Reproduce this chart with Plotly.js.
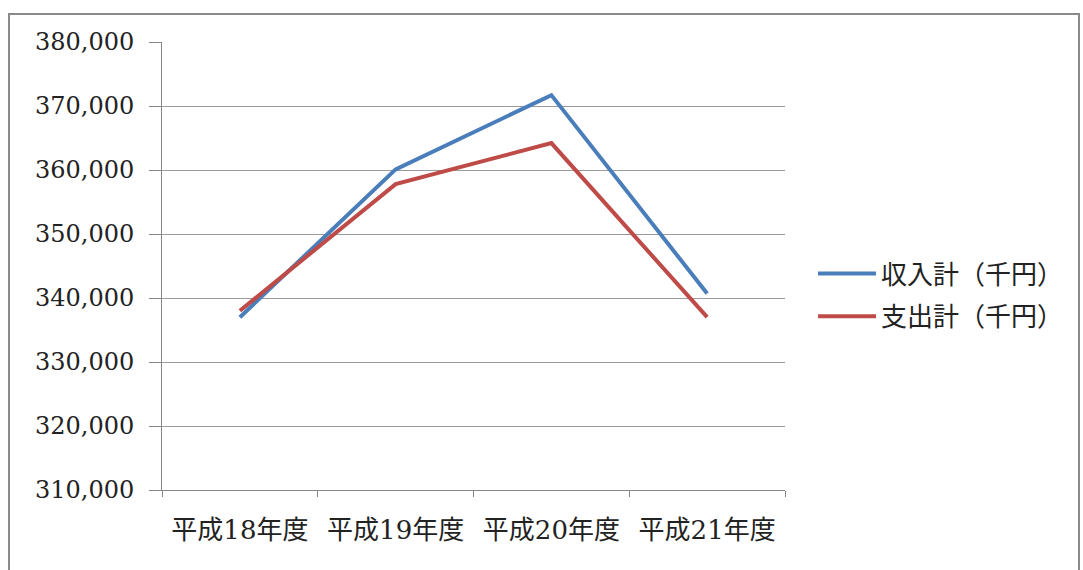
<!DOCTYPE html>
<html><head><meta charset="utf-8">
<script src="https://cdn.plot.ly/plotly-3.0.1.min.js"></script>
<style>
html,body{margin:0;padding:0;background:#fff;}
#frame{position:absolute;left:8px;top:13px;width:1072px;height:600px;border:2px solid #8a8a8a;box-sizing:border-box;}
#chart{position:absolute;left:0;top:0;width:1083px;height:570px;}
</style></head>
<body>
<div id="frame"></div>
<div id="chart"></div>
<script>
const categories = ['平成18年度','平成19年度','平成20年度','平成21年度'];
const incomeName = '収入計（千円）';
const expenseName = '支出計（千円）';
const income = [337000, 360100, 371700, 340700];
const expense = [338000, 357800, 364200, 337000];
const yTicks = [310000, 320000, 330000, 340000, 350000, 360000, 370000, 380000];
const yTickLabels = ['310,000','320,000','330,000','340,000','350,000','360,000','370,000','380,000'];

const traces = [
  {x: categories, y: income, name: incomeName, type: 'scatter', mode: 'lines', legendgroup: 'a',
   line: {color: '#4a7ebb', width: 4}},
  {x: categories, y: expense, name: expenseName, type: 'scatter', mode: 'lines', legendgroup: 'b',
   line: {color: '#be4b48', width: 4}}
];
const layout = {
  width: 1083, height: 570,
  margin: {l: 162, r: 298, t: 42, b: 80},
  paper_bgcolor: 'rgba(0,0,0,0)', plot_bgcolor: 'rgba(0,0,0,0)',
  showlegend: true,
  legend: {x: 1.045, xanchor: 'left', y: 0.435, yanchor: 'middle',
    font: {family: '"Noto Sans CJK JP"', size: 26, color: '#222'},
    tracegroupgap: 6, itemwidth: 58},
  xaxis: {type: 'category', range: [-0.5, 3.5], showgrid: false, showline: true, linecolor: '#868686', linewidth: 1,
    ticks: 'outside', tickson: 'boundaries', ticklen: 6, tickcolor: '#868686',
    tickfont: {family: '"DejaVu Serif", "Noto Sans CJK JP"', size: 26, color: '#222'},
    ticklabelstandoff: 17, fixedrange: true},
  yaxis: {range: [310000, 380000], tickvals: yTicks, ticktext: yTickLabels,
    showgrid: true, gridcolor: '#9a9a9a', gridwidth: 1, zeroline: false,
    showline: true, linecolor: '#868686', linewidth: 1,
    ticks: 'outside', ticklen: 12, tickcolor: '#868686',
    tickfont: {family: '"DejaVu Serif"', size: 24, color: '#222'},
    ticklabelstandoff: 10, fixedrange: true}
};
Plotly.newPlot('chart', traces, layout, {displayModeBar: false, staticPlot: true});
</script>
</body></html>
